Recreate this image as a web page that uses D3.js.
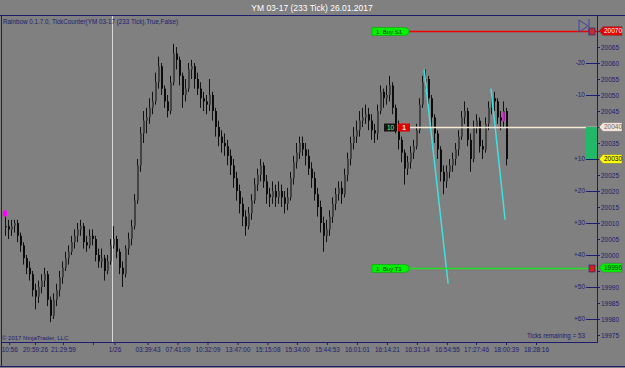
<!DOCTYPE html>
<html>
<head>
<meta charset="utf-8">
<script src="https://cdn.jsdelivr.net/npm/d3@7"></script>
<style>
  body { margin: 0; background: #808080; }
  svg { display: block; font-family: "Liberation Sans", Arial, sans-serif; }
</style>
</head>
<body>
<div id="chart"></div>
<script>
const title = 'YM 03-17 (233 Tick)  26.01.2017';
const indicatorText = 'Rainbow 0.1.7.0, TickCounter(YM 03-17 (233 Tick),True,False)';
const copyright = '\u00A9 2017 NinjaTrader, LLC';
const ticksRemaining = 'Ticks remaining = 53';

// 233 tick bars, open = previous close
const closes = [20009,20008,20009,20010,20006,20003,19999,19996,19994,19989,
  19987,19990,19992,19994,19986,19981,19986,19989,19993,19996,
  19999,20001,20004,20006,20008,20009,20004,20003,20006,20005,
  20000,19998,19999,19995,19998,20003,20005,20001,19996,19994,
  20002,20005,20009,20017,20028,20038,20042,20043,20046,20048,
  20054,20059,20052,20048,20045,20054,20063,20061,20056,20050,
  20052,20058,20059,20055,20052,20049,20048,20047,20050,20045,
  20040,20037,20035,20034,20031,20028,20024,20020,20016,20012,
  20009,20013,20017,20022,20025,20028,20023,20019,20018,20020,
  20018,20020,20018,20016,20018,20024,20029,20032,20035,20033,
  20031,20027,20024,20019,20015,20010,20006,20008,20012,20016,
  20019,20021,20019,20025,20030,20035,20037,20039,20042,20043,
  20044,20042,20039,20038,20045,20051,20049,20050,20053,20046,
  20041,20036,20032,20027,20029,20032,20034,20039,20047,20054,
  20055,20049,20043,20038,20033,20026,20023,20026,20028,20030,
  20033,20037,20043,20045,20036,20030,20040,20042,20034,20033,
  20041,20046,20049,20048,20043,20042,20045,20030];
const highs = [20012,20011,20011,20011,20011,20007,20004,20000,19998,19995,
  19991,19992,19994,19996,19995,19987,19988,19991,19995,19998,
  20001,20003,20006,20008,20010,20011,20010,20006,20008,20008,
  20006,20002,20002,20000,20000,20005,20009,20006,20002,19998,
  20003,20007,20011,20019,20030,20040,20045,20046,20049,20051,
  20057,20062,20060,20053,20050,20056,20066,20065,20062,20057,
  20055,20060,20061,20060,20057,20054,20051,20050,20055,20051,
  20046,20042,20039,20038,20036,20033,20030,20026,20022,20018,
  20014,20015,20019,20024,20027,20030,20029,20025,20021,20023,
  20022,20023,20022,20020,20021,20026,20031,20035,20037,20037,
  20035,20033,20029,20026,20021,20017,20012,20011,20014,20018,
  20021,20023,20023,20027,20032,20037,20040,20042,20045,20046,
  20047,20046,20044,20041,20047,20053,20052,20053,20056,20054,
  20047,20042,20037,20033,20031,20034,20036,20041,20049,20056,
  20058,20056,20050,20044,20039,20034,20028,20028,20030,20032,
  20035,20039,20045,20048,20046,20038,20042,20044,20043,20036,
  20043,20048,20051,20051,20049,20045,20048,20046];
const lows = [20006,20005,20006,20007,20004,20001,19997,19994,19992,19987,
  19983,19985,19988,19990,19984,19979,19980,19984,19987,19991,
  19995,19997,20000,20002,20004,20006,20002,20001,20002,20003,
  19998,19996,19996,19992,19994,19997,20002,19999,19994,19990,
  19993,20000,20003,20008,20016,20026,20035,20038,20041,20044,
  20047,20052,20050,20046,20043,20044,20053,20058,20053,20046,
  20048,20051,20055,20052,20050,20046,20045,20044,20045,20042,
  20037,20034,20032,20031,20028,20025,20021,20017,20013,20009,
  20006,20008,20011,20016,20020,20023,20021,20016,20015,20016,
  20015,20016,20015,20013,20014,20017,20022,20027,20030,20031,
  20028,20025,20021,20017,20012,20007,20001,20004,20006,20010,
  20014,20017,20016,20018,20023,20028,20033,20035,20037,20040,
  20041,20039,20036,20035,20036,20044,20046,20047,20048,20044,
  20038,20033,20029,20022,20025,20027,20030,20033,20038,20046,
  20052,20047,20040,20035,20030,20023,20019,20021,20024,20026,
  20028,20031,20036,20041,20034,20026,20029,20038,20032,20030,
  20032,20039,20044,20045,20041,20039,20040,20028];

const timeTickBars = [1.4, 10, 19.3, 29.3, 36.5, 47.5, 57.5, 67.5, 77.5, 87.5, 97.3, 107.3, 117.3, 127.3, 137.3, 147.3, 157, 167, 177];
const timeTickLabels = ['10:56', '20:59:26', '21:29:59', '', '1/26', '03:39:43', '07:41:09', '10:32:09',
  '13:47:00', '15:15:08', '15:34:00', '15:44:53', '16:01:01', '16:14:21', '16:31:14', '16:54:55',
  '17:27:46', '18:00:39', '18:28:16'];
const priceTicks = [20070, 20065, 20060, 20055, 20050, 20045, 20040, 20035, 20030, 20025, 20020,
  20015, 20010, 20005, 20000, 19995, 19990, 19985, 19980, 19975];
const offsetPrices = [20060, 20050, 20030, 20020, 20010, 20000, 19990, 19980];
const offsetLabels = ['-20', '-10', '+10', '+20', '+30', '+40', '+50', '+60'];

const sessionBreakBar = 35.7;
const orderPrices = [20070, 19996];
const orderLabels = ['1  Buy S1', '1  Buy T1'];
const orderTagColors = ['#e00000', '#00ee00'];
const orderLineColors = ['#ee0000', '#22dd22'];
const positionPrice = 20040;
const positionQty = '10';
const positionOrders = '1';
const lastPrice = 20030;
// trend lines: [bar0, price0, bar1, price1]
const trendLines = [[139.7, 20058, 147.7, 19991], [162, 20052, 166.7, 20011]];
const markers = [[0, 20013], [166, 20043]];

const W = 625, H = 368;
const plot = { left: 2, top: 16, right: 597, bottom: 342 };
const navy = '#1c1c70';
const font = '"Liberation Sans", Arial, sans-serif';

const svg = d3.select('#chart').append('svg').attr('width', W).attr('height', H);
svg.append('rect').attr('width', W).attr('height', H).attr('fill', '#808080');

const x = d3.scaleLinear().domain([0, closes.length - 1]).range([5, 506]);
const y = d3.scaleLinear().domain([19972.8, 20074.7]).range([plot.bottom, plot.top]);

// Title
svg.append('text')
  .attr('x', 312).attr('y', 11)
  .attr('text-anchor', 'middle')
  .attr('fill', '#ffffff')
  .style('font-size', '8.5px')
  .text(title);

// Frame
const frame = svg.append('g').attr('stroke', navy).attr('shape-rendering', 'crispEdges');
frame.append('line').attr('x1', 0).attr('x2', W).attr('y1', 15.5).attr('y2', 15.5);
frame.append('line').attr('x1', 1.5).attr('x2', 1.5).attr('y1', 15).attr('y2', 366);
frame.append('line').attr('x1', 1).attr('x2', plot.right + 1).attr('y1', plot.bottom + 0.5).attr('y2', plot.bottom + 0.5);
frame.append('line').attr('x1', plot.right + 0.5).attr('x2', plot.right + 0.5).attr('y1', 15).attr('y2', plot.bottom + 1);
frame.append('line').attr('x1', 0).attr('x2', W).attr('y1', 366.5).attr('y2', 366.5);

// Session break
svg.append('line')
  .attr('x1', Math.round(x(sessionBreakBar)) + 0.5).attr('x2', Math.round(x(sessionBreakBar)) + 0.5)
  .attr('y1', plot.top).attr('y2', plot.bottom)
  .attr('stroke', '#d8d8d8');

svg.append('defs').append('clipPath').attr('id', 'plotClip')
  .append('rect').attr('x', plot.left).attr('y', plot.top)
  .attr('width', plot.right - plot.left).attr('height', plot.bottom - plot.top);
const g = svg.append('g').attr('clip-path', 'url(#plotClip)');

// Candles
const bars = closes.map((c, i) => ({ i, o: i ? closes[i - 1] : c, c, h: highs[i], l: lows[i] }));
g.selectAll('.wick').data(bars).join('line')
  .attr('class', 'wick')
  .attr('x1', d => Math.round(x(d.i)) + 0.5).attr('x2', d => Math.round(x(d.i)) + 0.5)
  .attr('y1', d => y(d.h)).attr('y2', d => y(d.l))
  .attr('stroke', '#111');
g.selectAll('.body').data(bars).join('rect')
  .attr('class', 'body')
  .attr('x', d => Math.round(x(d.i)))
  .attr('width', 2)
  .attr('y', d => y(Math.max(d.o, d.c)))
  .attr('height', d => Math.max(1, Math.abs(y(d.o) - y(d.c))))
  .attr('fill', d => d.c > d.o ? '#444' : '#0c0c0c');

// Trend lines
g.selectAll('.trend').data(trendLines).join('line')
  .attr('x1', d => x(d[0])).attr('y1', d => y(d[1]))
  .attr('x2', d => x(d[2])).attr('y2', d => y(d[3]))
  .attr('stroke', '#40e0e0').attr('stroke-width', 1.5);

// Markers
g.append('ellipse').attr('cx', x(markers[0][0])).attr('cy', y(markers[0][1]))
  .attr('rx', 2.2).attr('ry', 3.2).attr('fill', '#ff00ff');
g.append('rect').attr('x', x(markers[1][0]) - 0.5).attr('y', y(markers[1][1]) - 5)
  .attr('width', 2).attr('height', 9).attr('fill', '#ff00ff');

// Position line
const posY = Math.round(y(positionPrice)) + 0.5;
svg.append('line').attr('x1', 410).attr('x2', plot.right).attr('y1', posY).attr('y2', posY)
  .attr('stroke', '#f5e8d5').attr('stroke-width', 1.5);
svg.append('rect').attr('x', 384).attr('y', posY - 4).attr('width', 13).attr('height', 8).attr('fill', '#141414');
svg.append('text').attr('x', 390.5).attr('y', posY + 2.3).attr('text-anchor', 'middle')
  .attr('fill', '#7cff7c').style('font-size', '6.5px').text(positionQty);
svg.append('rect').attr('x', 398).attr('y', posY - 4).attr('width', 12).attr('height', 8).attr('fill', '#e00000');
svg.append('text').attr('x', 404).attr('y', posY + 2.3).attr('text-anchor', 'middle')
  .attr('fill', '#fff').style('font-size', '6.5px').style('font-weight', 'bold').text(positionOrders);

// Order lines
orderPrices.forEach((p, k) => {
  const oy = Math.round(y(p)) + 0.5;
  svg.append('line').attr('x1', 408).attr('x2', plot.right).attr('y1', oy).attr('y2', oy)
    .attr('stroke', orderLineColors[k]).attr('stroke-width', 1.5);
  svg.append('path')
    .attr('d', `M372,${oy - 4} H405 A4,4 0 0 1 405,${oy + 4} H372 Z`)
    .attr('fill', '#00f000').attr('stroke', '#00a000').attr('stroke-width', 0.5);
  svg.append('text').attr('x', 376).attr('y', oy + 2.3)
    .attr('fill', '#0a3a0a').style('font-size', '6px').attr('xml:space', 'preserve')
    .text(orderLabels[k]);
  svg.append('rect').attr('x', 589).attr('y', oy - 3.5).attr('width', 6).attr('height', 7)
    .attr('fill', k === 0 ? '#c03030' : '#d02020').attr('stroke', navy).attr('stroke-width', 0.6);
});

// Chart trader icon near top right
const icon = svg.append('g').attr('fill', 'none').attr('stroke', '#3a3aa8').attr('stroke-width', 0.9);
icon.append('path').attr('d', 'M579,20 L588,26 L579,32 Z');
icon.append('line').attr('x1', 589).attr('x2', 589).attr('y1', 19).attr('y2', 35);

// PnL bar on axis
svg.append('rect')
  .attr('x', 586).attr('width', 11)
  .attr('y', y(positionPrice)).attr('height', y(lastPrice) - y(positionPrice))
  .attr('fill', '#22b86a');

// Offset labels
const off = svg.append('g');
off.selectAll('line').data(offsetPrices).join('line')
  .attr('x1', 586).attr('x2', plot.right)
  .attr('y1', d => Math.round(y(d)) + 0.5).attr('y2', d => Math.round(y(d)) + 0.5)
  .attr('stroke', navy).attr('shape-rendering', 'crispEdges');
off.selectAll('text').data(offsetPrices).join('text')
  .attr('x', 585).attr('y', d => y(d) + 2.2)
  .attr('text-anchor', 'end')
  .attr('fill', navy).style('font-size', '6.5px')
  .text((d, i) => offsetLabels[i]);

// Price axis (labels hidden where a price tag sits)
const tagPrices = [orderPrices[0], positionPrice, lastPrice, orderPrices[1]];
const yAxis = svg.append('g')
  .attr('transform', `translate(${plot.right},0)`)
  .call(d3.axisRight(y).tickValues(priceTicks)
    .tickFormat(d => tagPrices.some(t => Math.abs(t - d) < 3) ? '' : d)
    .tickSize(3).tickPadding(1));
yAxis.select('.domain').remove();
yAxis.selectAll('line').attr('stroke', navy);
yAxis.selectAll('text').attr('fill', navy).style('font-size', '6.5px').style('font-family', font);

// Price tags
function tag(price, fill, color) {
  const ty = y(price);
  svg.append('path')
    .attr('d', `M599,${ty} L603,${ty - 4.5} H622 V${ty + 4.5} H603 Z`)
    .attr('fill', fill).attr('stroke', '#555').attr('stroke-width', 0.4);
  svg.append('text').attr('x', 604).attr('y', ty + 2.3)
    .attr('fill', color).style('font-size', '6.5px').text(price);
}
tag(orderPrices[0], orderTagColors[0], '#ffffff');
tag(positionPrice, '#f2e4d8', '#6a6a6a');
tag(lastPrice, '#ffff00', '#000000');
tag(orderPrices[1], orderTagColors[1], '#0a3a0a');

// Time axis
const xAxis = svg.append('g')
  .attr('transform', `translate(0,${plot.bottom})`)
  .call(d3.axisBottom(x).tickValues(timeTickBars).tickFormat((d, i) => timeTickLabels[i]).tickSize(3).tickPadding(2));
xAxis.select('.domain').remove();
xAxis.selectAll('line').attr('stroke', navy);
xAxis.selectAll('text').attr('fill', navy).style('font-size', '6.4px').style('font-family', font);

// Texts
svg.append('text').attr('x', 3).attr('y', 24).attr('fill', navy).style('font-size', '6.3px').text(indicatorText);
svg.append('text').attr('x', 2).attr('y', 340).attr('fill', navy).style('font-size', '6px').text(copyright);
svg.append('text').attr('x', 527).attr('y', 338).attr('fill', navy).style('font-size', '6.3px').text(ticksRemaining);
</script>
</body>
</html>
